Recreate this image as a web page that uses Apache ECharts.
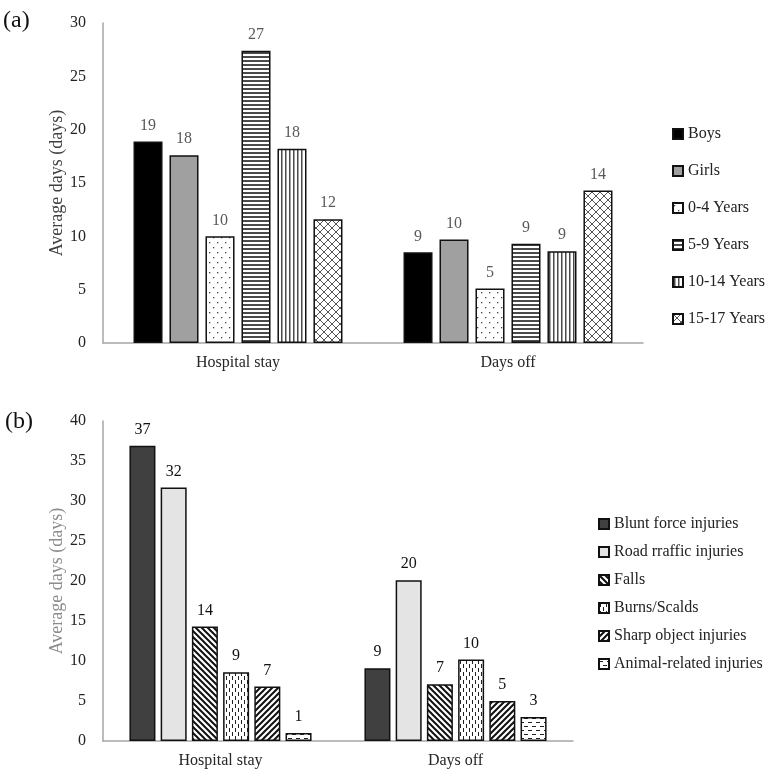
<!DOCTYPE html>
<html>
<head>
<meta charset="utf-8">
<script src="https://cdn.jsdelivr.net/npm/echarts@6/dist/echarts.min.js"></script>
<style>
  html, body { margin: 0; padding: 0; background: #fff; }
  #main { width: 767px; height: 773px; }
</style>
</head>
<body>
<div id="main"></div>
<script>
// categories
const groups = ['Hospital stay', 'Days off'];

// (a) by sex / age
const ageNames = ['Boys', 'Girls', '0-4 Years', '5-9 Years', '10-14 Years', '15-17 Years'];
const boys = [18.9, 8.5];
const girls = [17.6, 9.7];
const age0to4 = [10.0, 5.1];
const age5to9 = [27.4, 9.3];
const age10to14 = [18.2, 8.6];
const age15to17 = [11.6, 14.3];

// (b) by injury type
const injuryNames = ['Blunt force injuries', 'Road rraffic injuries', 'Falls', 'Burns/Scalds', 'Sharp object injuries', 'Animal-related injuries'];
const blunt = [36.9, 9.1];
const road = [31.7, 20.1];
const falls = [14.3, 7.1];
const burns = [8.6, 10.2];
const sharp = [6.8, 5.0];
const animal = [1.0, 3.0];

// y tick settings
const topTicks = { min: 0, max: 30, interval: 5 };
const bottomTicks = { min: 0, max: 40, interval: 5 };

const serif = '"Liberation Serif", "Times New Roman", serif';

// small canvas tiles used as fill patterns
function tile(w, h, draw) {
  const c = document.createElement('canvas');
  c.width = w; c.height = h;
  const ctx = c.getContext('2d');
  ctx.fillStyle = '#fff';
  ctx.fillRect(0, 0, w, h);
  draw(ctx);
  return { image: c, repeat: 'repeat' };
}
function lines(ctx, segs, color, lw) {
  ctx.strokeStyle = color; ctx.lineWidth = lw;
  ctx.beginPath();
  segs.forEach(s => { ctx.moveTo(s[0], s[1]); ctx.lineTo(s[2], s[3]); });
  ctx.stroke();
}

const patDots = tile(8, 10, ctx => {
  ctx.fillStyle = '#444';
  ctx.fillRect(1, 2, 1.3, 1.3);
  ctx.fillRect(5, 7, 1.3, 1.3);
});
const patHoriz = tile(4, 4, ctx => { ctx.fillStyle = '#4a4a4a'; ctx.fillRect(0, 0, 4, 2); });
const patVert = tile(4, 4, ctx => { ctx.fillStyle = '#4a4a4a'; ctx.fillRect(1, 0, 1.5, 4); });
const patCross = tile(8, 8, ctx => {
  lines(ctx, [[-1, -1, 9, 9], [9, -1, -1, 9]], '#555', 1);
});
const patBack = tile(6, 6, ctx => {
  lines(ctx, [[-1, -1, 7, 7], [-1, 5, 1, 7], [5, -1, 7, 1]], '#111', 2);
});
const patFwd = tile(6, 6, ctx => {
  lines(ctx, [[-1, 7, 7, -1], [-1, 1, 1, -1], [5, 7, 7, 5]], '#111', 2);
});
const patVdash = tile(6, 8, ctx => {
  ctx.fillStyle = '#222';
  ctx.fillRect(1, 0, 1, 4);
  ctx.fillRect(4, 4, 1, 4);
});
const patHdash = tile(8, 8, ctx => {
  ctx.fillStyle = '#222';
  ctx.fillRect(0, 2, 4, 1);
  ctx.fillRect(4, 6, 4, 1);
});

function bar(name, data, fill, idx, labelColor, gap, catGap) {
  return {
    name: name,
    type: 'bar',
    xAxisIndex: idx,
    yAxisIndex: idx,
    data: data,
    barGap: gap,
    barCategoryGap: catGap,
    itemStyle: { color: fill, borderColor: '#111', borderWidth: 1.5 },
    label: {
      show: true,
      position: 'top',
      distance: 8,
      color: labelColor,
      fontFamily: serif,
      fontSize: 16,
      formatter: p => Math.round(p.value)
    }
  };
}

const topFills = ['#000000', '#a0a0a0', patDots, patHoriz, patVert, patCross];
const topData = [boys, girls, age0to4, age5to9, age10to14, age15to17];
const botFills = ['#404040', '#e4e4e4', patBack, patVdash, patFwd, patHdash];
const botData = [blunt, road, falls, burns, sharp, animal];

const series = [];
ageNames.forEach((n, i) => series.push(bar(n, topData[i], topFills[i], 0, '#595959', '24%', '22.6%')));
injuryNames.forEach((n, i) => series.push(bar(n, botData[i], botFills[i], 1, '#111', '20%', '22.5%')));

function yAxis(idx, ticks, nameColor) {
  return {
    type: 'value',
    gridIndex: idx,
    min: ticks.min, max: ticks.max, interval: ticks.interval,
    name: 'Average days (days)',
    nameLocation: 'middle',
    nameGap: 37,
    nameMoveOverlap: false,
    nameTextStyle: { fontFamily: serif, fontSize: 18, color: nameColor },
    axisLine: { show: true, lineStyle: { color: '#a6a6a6', width: 1.5 } },
    axisTick: { show: false },
    splitLine: { show: false },
    axisLabel: { color: '#222', fontFamily: serif, fontSize: 16, margin: 17 }
  };
}
function xAxis(idx) {
  return {
    type: 'category',
    gridIndex: idx,
    data: groups,
    axisLine: { lineStyle: { color: '#a6a6a6', width: 1.5 } },
    axisTick: { show: false },
    axisLabel: { color: '#262626', fontFamily: serif, fontSize: 16, margin: 12 }
  };
}

const myChart = echarts.init(document.getElementById('main'));
const option = {
  animation: false,
  backgroundColor: '#fff',
  grid: [
    { left: 103, right: 124, top: 23, bottom: 430 },
    { left: 103, right: 194, top: 421, bottom: 32 }
  ],
  xAxis: [xAxis(0), xAxis(1)],
  yAxis: [yAxis(0, topTicks, '#404040'), yAxis(1, bottomTicks, '#8c8c8c')],
  legend: [
    {
      data: ageNames, orient: 'vertical', left: 667, top: 121,
      itemWidth: 10, itemHeight: 10, itemGap: 21,
      icon: 'rect',
      textStyle: { fontFamily: serif, fontSize: 16, color: '#222' }
    },
    {
      data: injuryNames, orient: 'vertical', left: 593, top: 511,
      itemWidth: 10, itemHeight: 10, itemGap: 12,
      icon: 'rect',
      textStyle: { fontFamily: serif, fontSize: 16, color: '#222' }
    }
  ],
  graphic: [
    { type: 'text', left: 3, top: 9, style: { text: '(a)', font: '24px ' + serif, fill: '#111' } },
    { type: 'text', left: 5, top: 410, style: { text: '(b)', font: '24px ' + serif, fill: '#111' } }
  ],
  series: series
};
myChart.setOption(option);
</script>
</body>
</html>
